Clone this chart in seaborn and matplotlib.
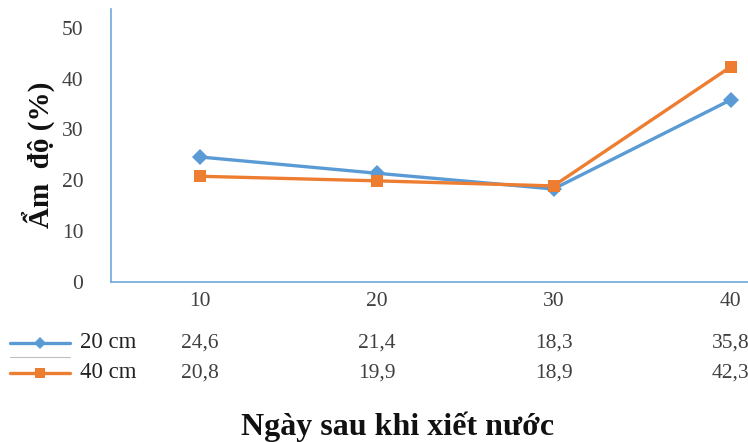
import matplotlib
matplotlib.use("Agg")
import matplotlib.pyplot as plt
import matplotlib.transforms as mtransforms
from matplotlib.lines import Line2D
import pandas as pd
import seaborn as sns

days = ["10", "20", "30", "40"]
series_names = ["20 cm", "40 cm"]
moisture_20cm = [24.6, 21.4, 18.3, 35.8]
moisture_40cm = [20.8, 19.9, 18.9, 42.3]
y_ticks = [0, 10, 20, 30, 40, 50]

colors = {"20 cm": "#5B9BD5", "40 cm": "#ED7D31"}
markers = {"20 cm": "D", "40 cm": "s"}
marker_sizes = {"20 cm": 8, "40 cm": 9}
key_marker_sizes = {"20 cm": 6.5, "40 cm": 7.5}

df = pd.DataFrame({
    "Ngày": days * 2,
    "Ẩm độ": moisture_20cm + moisture_40cm,
    "Độ sâu": [series_names[0]] * 4 + [series_names[1]] * 4,
})

sns.set_style("white")
plt.rcParams["font.family"] = ["Liberation Serif", "DejaVu Serif"]

W, H = 748, 442
fig = plt.figure(figsize=(W / 100, H / 100), dpi=100)

def fx(px):
    return px / W

def fy(py):
    return 1 - py / H

# plot area runs off the right edge of the figure
ax_left, ax_right, ax_top, ax_bottom = 111, 819, 9, 282
ax = fig.add_axes([fx(ax_left), fy(ax_bottom), (ax_right - ax_left) / W, (ax_bottom - ax_top) / H])

sns.lineplot(data=df, x="Ngày", y="Ẩm độ", hue="Độ sâu", style="Độ sâu",
             palette=colors, markers=markers, dashes=False, linewidth=2.4,
             markeredgewidth=0, ax=ax, legend=False, sort=False)
for line, name in zip(ax.lines, series_names):
    line.set_markersize(marker_sizes[name])

ax.set_xlim(-0.5, 3.5)
ax.set_ylim(0, 53.7)
ax.set_yticks(y_ticks)
ax.set_yticklabels([str(t) for t in y_ticks], fontsize=15.5, color="#404040")
ax.set_xticks([])
ax.tick_params(axis="y", length=0, pad=20)
ax.set_xlabel("")
ax.set_ylabel("Ẩm  độ (%)", fontsize=21, fontweight="bold", color="#111111",
              va="center", ha="center")
ax.yaxis.set_label_coords((38 - ax_left) / (ax_right - ax_left),
                          (ax_bottom - 155) / (ax_bottom - ax_top))
for side in ["top", "right"]:
    ax.spines[side].set_visible(False)
for side in ["left", "bottom"]:
    ax.spines[side].set_color("#6FA8DC")
    ax.spines[side].set_linewidth(1.2)

# data table under the plot: category row, then one row per series
blend = mtransforms.blended_transform_factory(ax.transData, fig.transFigure)
row_y = {"head": fy(302), "20 cm": fy(343), "40 cm": fy(373)}
for i, d in enumerate(days):
    ax.text(i, row_y["head"], d, transform=blend, ha="center", va="center",
            fontsize=15.5, color="#404040")
for name, vals in zip(series_names, [moisture_20cm, moisture_40cm]):
    for i, v in enumerate(vals):
        ax.text(i, row_y[name], f"{v:.1f}".replace(".", ","), transform=blend,
                ha="center", va="center", fontsize=15.5, color="#404040", clip_on=False)
    fig.text(fx(80), row_y[name], name, ha="left", va="center", fontsize=16.5, color="#222222")
    fig.add_artist(Line2D([fx(10), fx(70)], [row_y[name]] * 2, transform=fig.transFigure,
                          color=colors[name], linewidth=2.4))
    fig.add_artist(Line2D([fx(40)], [row_y[name]], transform=fig.transFigure,
                          color=colors[name], marker=markers[name],
                          markersize=key_marker_sizes[name], markeredgewidth=0, linestyle="none"))
fig.add_artist(Line2D([fx(10), fx(70)], [fy(357)] * 2, transform=fig.transFigure,
                      color="#BFBFBF", linewidth=0.8))

fig.text(fx(398), fy(435), "Ngày sau khi xiết nước", ha="center", va="baseline",
         fontsize=23, fontweight="bold", color="#111111")

fig.savefig("out.png", dpi=100)
